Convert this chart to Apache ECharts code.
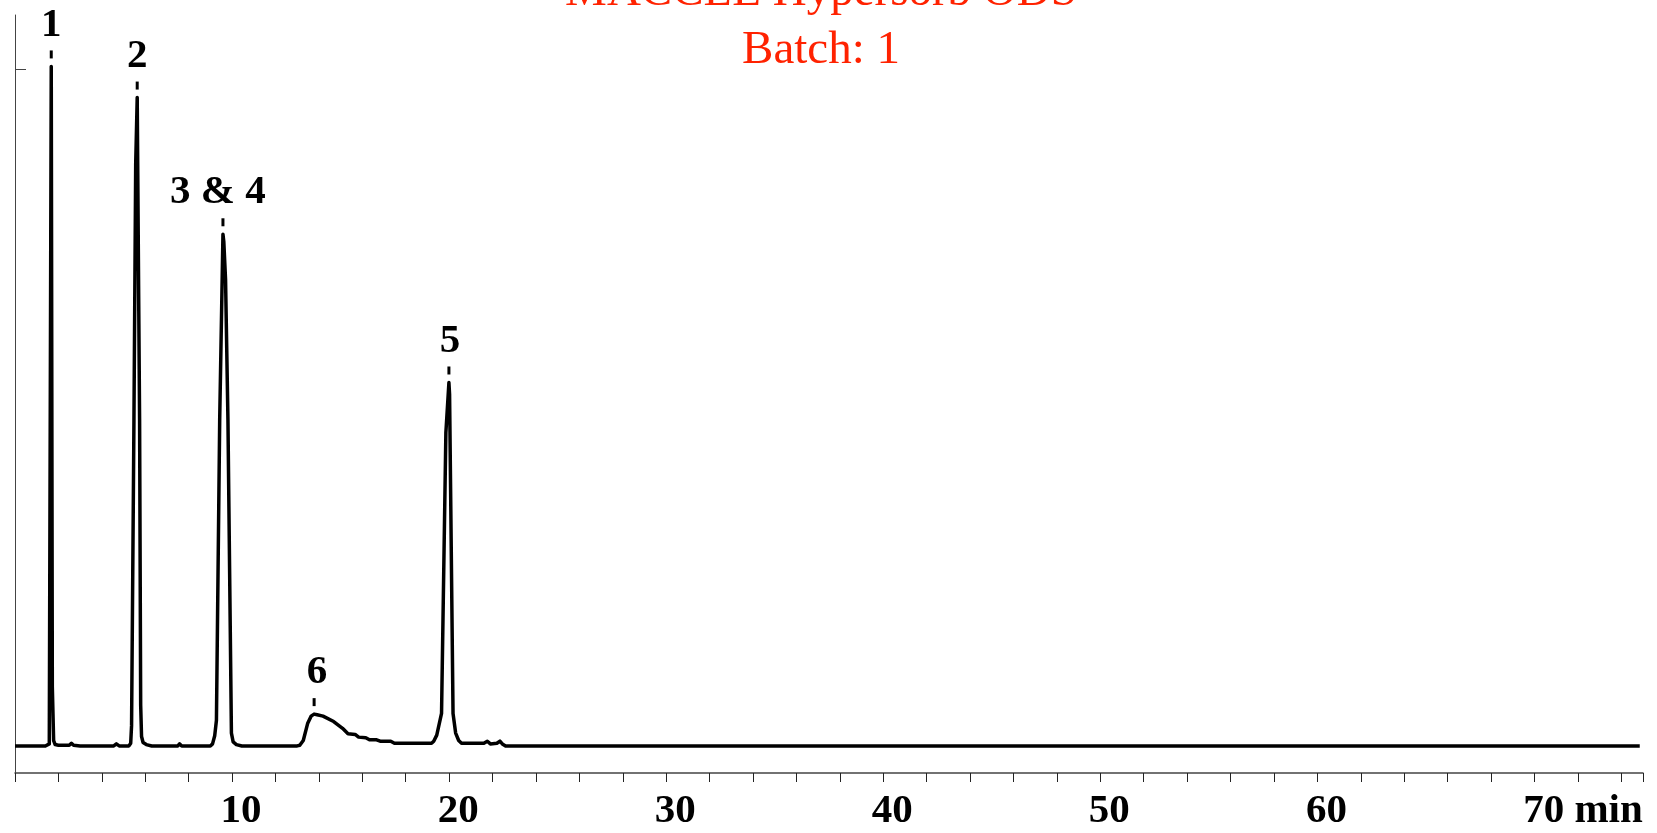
<!DOCTYPE html>
<html>
<head>
<meta charset="utf-8">
<script src="https://cdn.jsdelivr.net/npm/echarts@6/dist/echarts.min.js"></script>
<style>html,body{margin:0;padding:0;background:#fff;}#c{width:1657px;height:833px;}</style>
</head>
<body>
<div id="c"></div>
<script>
// Retention time (min) and detector signal (arbitrary units, baseline = 0)
const retentionTimes = [
  0.00, 1.40, 1.58, 1.67, 1.72, 1.78, 1.85, 2.00, 2.50, 2.60, 2.70, 3.00,
  4.55, 4.67, 4.80, 5.25, 5.33, 5.37, 5.48, 5.56, 5.63, 5.74, 5.79, 5.83, 5.90, 6.05, 6.30,
  7.50, 7.58, 7.68, 9.00, 9.10, 9.20, 9.28, 9.43, 9.58, 9.62, 9.70, 9.81, 9.97, 10.05, 10.20, 10.45,
  13.00, 13.12, 13.28, 13.48, 13.64, 13.78, 13.92, 14.19, 14.68, 15.09, 15.34, 15.67, 15.83,
  16.16, 16.33, 16.66, 16.82, 17.31, 17.48, 19.05, 19.19, 19.29, 19.43, 19.65, 19.85, 19.99,
  20.02, 20.18, 20.30, 20.44, 20.57, 21.00, 21.60, 21.76, 21.90, 22.20, 22.34, 22.45, 22.60, 74.85
];
const signal = [
  0, 0, 3, 1004, 87, 8, 2, 1, 1, 4, 1, 0,
  0, 3, 0, 0, 4, 30, 482, 859, 958, 482, 60, 14, 5, 2, 0,
  0, 3, 0, 0, 3, 15, 38, 482, 756, 745, 689, 482, 19, 6, 2, 0,
  0, 1, 8, 33, 44, 47, 46, 44, 36, 26, 18, 17, 13,
  12, 9, 9, 7, 7, 4, 4, 4, 7, 16, 48, 463, 537,
  520, 48, 19, 8, 4, 4, 4, 7, 3, 4, 7, 3, 0, 0
];
// Peak annotations
const peakNames = ['1', '2', '3 & 4', '6', '5'];
const peakTimes = [1.67, 5.63, 9.58, 13.78, 19.99];
const peakLabelShift = [0, 0, -5, 3, 1];
// Axis tick labels
const xTickLabels = [10, 20, 30, 40, 50, 60, 70];
const titleLines = ['MACCLE Hypersorb ODS', 'Batch: 1'];

const seriesData = retentionTimes.map((t, i) => [t, signal[i]]);
const peakMarks = peakNames.map((n, i) => {
  const idx = retentionTimes.indexOf(peakTimes[i]);
  return {
    name: n,
    coord: [retentionTimes[idx], signal[idx]],
    label: { offset: [peakLabelShift[i], 0] }
  };
});

const serif = 'Liberation Serif, Times New Roman, serif';
const chart = echarts.init(document.getElementById('c'), null, { renderer: 'canvas' });
chart.setOption({
  animation: false,
  backgroundColor: '#fff',
  title: [
    { text: titleLines[0], left: 816, top: -36, textAlign: 'center',
      textStyle: { fontFamily: serif, fontSize: 47, fontWeight: 'normal', color: '#ff2200' } },
    { text: titleLines[1], left: 816, top: 22, textAlign: 'center',
      textStyle: { fontFamily: serif, fontSize: 47, fontWeight: 'normal', color: '#ff2200' } }
  ],
  grid: { left: 15, right: 14, top: 15, bottom: 60, containLabel: false },
  xAxis: {
    type: 'value', min: 0, max: 75, interval: 2,
    axisLine: { show: true, onZero: false, lineStyle: { color: '#444', width: 1.5 } },
    axisTick: { show: true, inside: false, length: 9, lineStyle: { color: '#222', width: 1 } },
    splitLine: { show: false },
    axisLabel: {
      show: true, margin: 18, padding: [0, 0, 0, 18],
      fontFamily: serif, fontSize: 41, fontWeight: 'bold', color: '#000',
      formatter: function (v) {
        if (xTickLabels.indexOf(v) < 0) return '';
        if (v === 70) return '{pad|}' + v + ' min';
        return String(v);
      },
      rich: { pad: { width: 79 } }
    }
  },
  yAxis: {
    type: 'value', min: -40, max: 1080,
    axisLine: { show: true, lineStyle: { color: '#444', width: 1 } },
    axisTick: { show: true, inside: true, length: 11, customValues: [1000], lineStyle: { color: '#444', width: 1 } },
    axisLabel: { show: false },
    splitLine: { show: false }
  },
  series: [{
    type: 'line',
    data: seriesData,
    showSymbol: false,
    smooth: false,
    lineStyle: { color: '#000', width: 3.5, join: 'round' },
    markPoint: {
      symbol: 'rect',
      symbolSize: [3, 8],
      symbolOffset: [0, -12],
      itemStyle: { color: '#000' },
      label: {
        show: true, position: 'top', distance: 5,
        formatter: '{b}',
        fontFamily: serif, fontSize: 41, fontWeight: 'bold', color: '#000'
      },
      data: peakMarks
    }
  }]
});
</script>
</body>
</html>
